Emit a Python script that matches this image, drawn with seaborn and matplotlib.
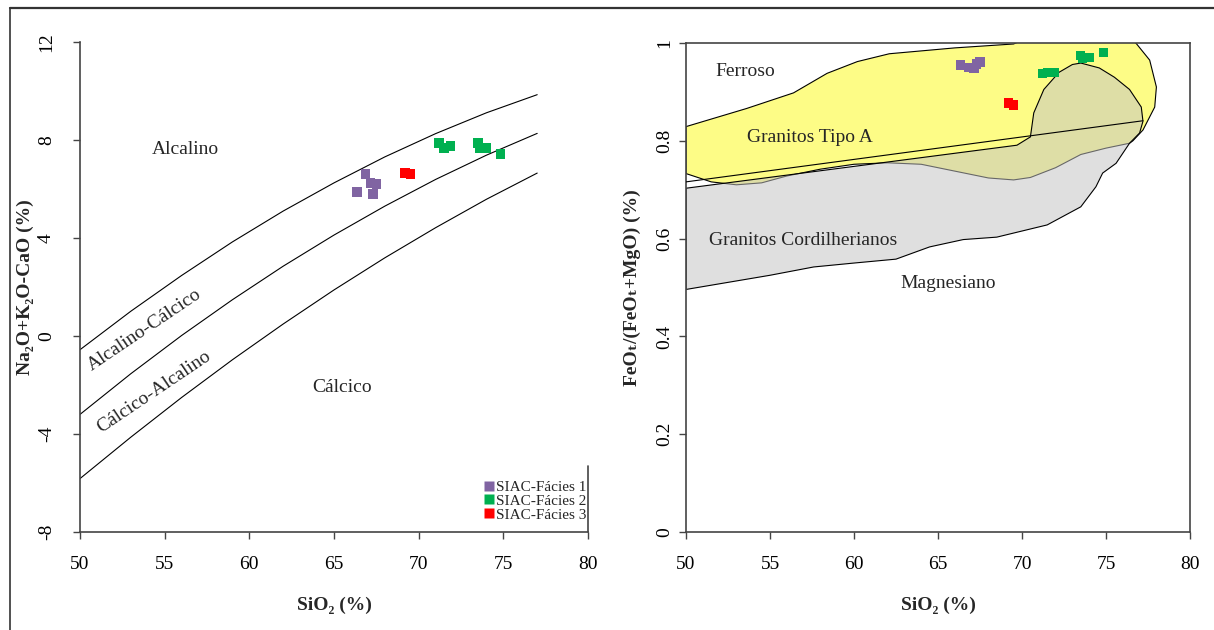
import pandas as pd
import seaborn as sns
import matplotlib.pyplot as plt
from matplotlib.lines import Line2D

# --- sample data (SiO2 shared by both diagrams) ---
sio2_f1 = [66.35, 66.85, 67.15, 67.3, 67.5]
mali_f1 = [5.88, 6.61, 6.24, 5.80, 6.20]
fe_f1 = [0.955, 0.950, 0.949, 0.957, 0.961]

sio2_f2 = [71.2, 71.5, 71.9, 73.5, 73.6, 74.0, 74.85]
mali_f2 = [7.88, 7.67, 7.76, 7.88, 7.67, 7.67, 7.43]
fe_f2 = [0.937, 0.939, 0.939, 0.975, 0.969, 0.971, 0.980]

sio2_f3 = [69.2, 69.5]
mali_f3 = [6.65, 6.61]
fe_f3 = [0.877, 0.873]

facies = ['SIAC-Fácies 1', 'SIAC-Fácies 2', 'SIAC-Fácies 3']
facies_colors = ['#8064A2', '#00B050', '#FF0000']

# --- MALI field boundaries ---
bound_x = [50, 53, 56, 59, 62, 65, 68, 71, 74, 77]
alk_ac = [-0.56, 1.01, 2.47, 3.84, 5.10, 6.25, 7.31, 8.26, 9.11, 9.85]
ac_ca = [-3.20, -1.54, 0.02, 1.48, 2.85, 4.12, 5.30, 6.39, 7.38, 8.27]
ca_c = [-5.82, -4.13, -2.51, -0.97, 0.49, 1.88, 3.19, 4.42, 5.58, 6.65]

# --- Fe* diagram ---
ferro_x = [50, 77.2]
ferro_y = [0.716, 0.841]

tipoA_x = [50, 53.6, 56.4, 58.4, 60.2, 62.1, 66.0, 69.5, 71.0, 76.0, 76.8, 77.6, 78.0,
           77.9, 77.2, 76.6, 76.4, 75.0, 73.5, 72.0, 70.5, 69.5, 68.0, 66.0, 64.0,
           62.0, 60.0, 58.0, 56.0, 54.5, 53.0, 51.5, 50]
tipoA_y = [0.829, 0.866, 0.898, 0.938, 0.962, 0.978, 0.990, 0.998, 1.02, 1.02, 0.999, 0.965, 0.91,
           0.869, 0.822, 0.800, 0.795, 0.785, 0.772, 0.745, 0.725, 0.720, 0.724, 0.738, 0.752,
           0.755, 0.752, 0.742, 0.728, 0.714, 0.710, 0.716, 0.733]

cordil_x = [50, 69.7, 70.5, 70.7, 71.3, 72.2, 73.0, 73.5, 74.6, 75.5, 76.4, 77.1, 77.2,
            77.0, 76.4, 75.6, 74.8, 74.4, 73.5, 71.5, 68.5, 66.5, 64.5, 62.5, 60.0,
            57.6, 55.0, 50]
cordil_y = [0.703, 0.791, 0.808, 0.857, 0.905, 0.940, 0.956, 0.959, 0.949, 0.930, 0.905, 0.869, 0.840,
            0.816, 0.795, 0.754, 0.734, 0.706, 0.665, 0.628, 0.603, 0.598, 0.583, 0.558, 0.550,
            0.542, 0.525, 0.496]

df = pd.DataFrame({
    'SiO2': sio2_f1 + sio2_f2 + sio2_f3,
    'MALI': mali_f1 + mali_f2 + mali_f3,
    'Fe': fe_f1 + fe_f2 + fe_f3,
    'Fácies': [facies[0]] * len(sio2_f1) + [facies[1]] * len(sio2_f2) + [facies[2]] * len(sio2_f3),
})

sns.set_style('ticks')
plt.rcParams['font.family'] = ['Liberation Serif', 'DejaVu Serif']
plt.rcParams['axes.unicode_minus'] = False
plt.rcParams['axes.edgecolor'] = '#444444'
plt.rcParams['xtick.color'] = '#444444'
plt.rcParams['ytick.color'] = '#444444'
plt.rcParams['xtick.labelcolor'] = 'black'
plt.rcParams['ytick.labelcolor'] = 'black'

fig = plt.figure(figsize=(12.14, 6.3), dpi=100)
ax1 = fig.add_axes([80 / 1214, 98 / 630, 508 / 1214, 490 / 630])
ax2 = fig.add_axes([686 / 1214, 98 / 630, 504 / 1214, 489 / 630])

palette = dict(zip(facies, facies_colors))

# ---------- left: MALI ----------
for yy in (alk_ac, ac_ca, ca_c):
    sns.lineplot(x=bound_x, y=yy, ax=ax1, color='black', lw=0.8, sort=False, estimator=None)

sns.scatterplot(data=df, x='SiO2', y='MALI', hue='Fácies', palette=palette, marker='s',
                s=45, edgecolor='none', ax=ax1, zorder=5)

ax1.set_xlim(50, 80)
ax1.set_ylim(-8, 12)
ax1.set_xticks(range(50, 81, 5))
ax1.set_yticks(range(-8, 13, 4))
sns.despine(ax=ax1)
ax1.axvline(80, ymin=0, ymax=0.135, color='#444444', lw=1.2, clip_on=False)

ax1.text(56.2, 7.6, 'Alcalino', fontsize=14, ha='center', va='center')
ax1.text(53.8, 0.25, 'Alcalino-Cálcico', fontsize=14, ha='center', va='center', rotation=34)
ax1.text(54.4, -2.3, 'Cálcico-Alcalino', fontsize=14, ha='center', va='center', rotation=34)
ax1.text(65.5, -2.1, 'Cálcico', fontsize=14, ha='center', va='center')

leg = ax1.legend(loc='lower right', bbox_to_anchor=(1.005, 0.012), frameon=False, fontsize=11,
                 handletextpad=0.15, handlelength=0.6, labelspacing=0.0, borderaxespad=0.0,
                 borderpad=0.3, markerscale=1.0)
ax1.set_xlabel('SiO₂ (%)', fontsize=14, fontweight='bold')
ax1.set_ylabel('Na₂O+K₂O-CaO (%)', fontsize=14, fontweight='bold')
ax1.yaxis.set_label_coords(-0.09, 0.5)
ax1.xaxis.set_label_coords(0.5, -0.133)

# ---------- right: Fe* ----------
ax2.fill(tipoA_x, tipoA_y, facecolor='#FDFC86', edgecolor='black', lw=0.8, zorder=1)
ax2.fill(cordil_x, cordil_y, facecolor=(0.77, 0.77, 0.77, 0.53), edgecolor='black', lw=0.8, zorder=2)
sns.lineplot(x=ferro_x, y=ferro_y, ax=ax2, color='black', lw=0.8, sort=False, estimator=None, zorder=3)

sns.scatterplot(data=df, x='SiO2', y='Fe', hue='Fácies', palette=palette, marker='s',
                s=45, edgecolor='none', ax=ax2, zorder=5, legend=False)

ax2.set_xlim(50, 80)
ax2.set_ylim(0, 1)
ax2.set_xticks(range(50, 81, 5))
ax2.set_yticks([0, 0.2, 0.4, 0.6, 0.8, 1])
ax2.set_yticklabels(['0', '0.2', '0.4', '0.6', '0.8', '1'])

ax2.text(53.5, 0.941, 'Ferroso', fontsize=14, ha='center', va='center')
ax2.text(57.4, 0.806, 'Granitos Tipo A', fontsize=14, ha='center', va='center')
ax2.text(57.0, 0.597, 'Granitos Cordilherianos', fontsize=14, ha='center', va='center')
ax2.text(65.6, 0.509, 'Magnesiano', fontsize=14, ha='center', va='center')

ax2.set_xlabel('SiO₂ (%)', fontsize=14, fontweight='bold')
ax2.set_ylabel('FeOₜ/(FeOₜ+MgO) (%)', fontsize=14, fontweight='bold')
ax2.yaxis.set_label_coords(-0.09, 0.5)
ax2.xaxis.set_label_coords(0.5, -0.133)

for ax, ypad in ((ax1, 13), (ax2, 4.5)):
    for sp in ax.spines.values():
        sp.set_linewidth(1.2)
    ax.tick_params(axis='both', direction='out', length=5, width=1.0, labelsize=14)
    ax.tick_params(axis='x', pad=12)
    ax.tick_params(axis='y', pad=ypad)
    for lab in ax.get_yticklabels():
        lab.set_rotation(90)
        lab.set_va('center')

# page frame of the source document
fig.add_artist(Line2D([10 / 1214, 10 / 1214], [0, 622 / 630], color='#333333', lw=1.2))
fig.add_artist(Line2D([10 / 1214, 1], [622 / 630, 622 / 630], color='#333333', lw=1.6))

fig.savefig('out.png', dpi=100)
